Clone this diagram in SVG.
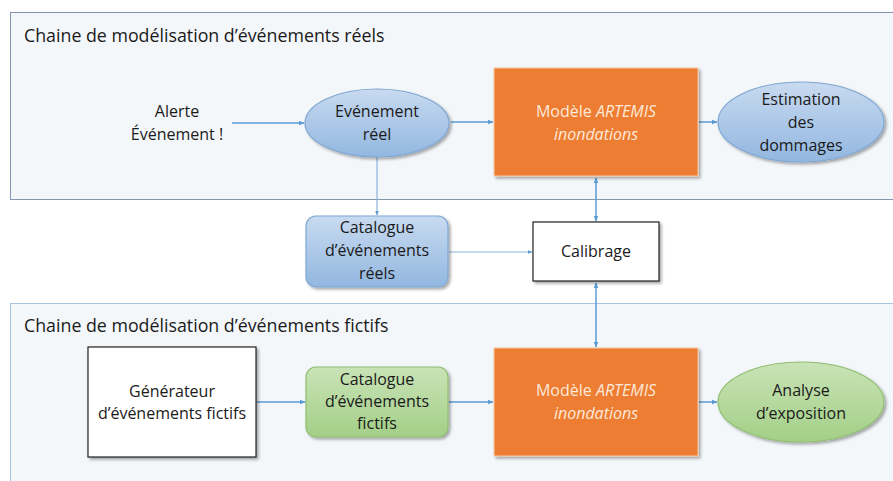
<svg xmlns="http://www.w3.org/2000/svg" width="893" height="481" viewBox="0 0 893 481">
<defs>
<linearGradient id="gBlue" x1="0" y1="0" x2="0" y2="1"><stop offset="0" stop-color="#c8daf0"/><stop offset="1" stop-color="#92b7e0"/></linearGradient>
<linearGradient id="gGreen" x1="0" y1="0" x2="0" y2="1"><stop offset="0" stop-color="#c9e3b6"/><stop offset="1" stop-color="#a3cf87"/></linearGradient>
<filter id="sh" x="-10%" y="-10%" width="125%" height="130%"><feDropShadow dx="2" dy="2" stdDeviation="1.5" flood-color="#000" flood-opacity="0.35"/></filter>
<marker id="ah" viewBox="0 0 10 10" refX="9" refY="5" markerWidth="4" markerHeight="4" orient="auto-start-reverse"><path d="M0,1 L10,5 L0,9 z" fill="#5b9bd5"/></marker>
</defs>
<style>
text{font-family:"Open Sans","Liberation Sans",sans-serif;font-size:16px;fill:#1a1a1a;text-anchor:middle}
.title{font-size:17.8px;text-anchor:start}
.w{fill:#fde9da}
.panel{fill:#f4f7fa;stroke:#8497b0;stroke-width:1}
.panel2{fill:#f4f7fa;stroke:#a9c4e0;stroke-width:1}
.orange{fill:#ed7d31;stroke:#f6c9a8;stroke-width:1}
.box{fill:#fff;stroke:#222;stroke-width:1.2}
.blue{fill:url(#gBlue);stroke:#7fa7d3;stroke-width:1.2}
.green{fill:url(#gGreen);stroke:#8fbf70;stroke-width:1.2}
.c{fill:none;stroke:#5b9bd5;stroke-width:1.5}
.thin{fill:none;stroke:#8ab4dd;stroke-width:1.2}
</style>
<rect x="0" y="0" width="893" height="481" fill="#fff"/>
<g id="panel-reels"><rect class="panel" x="10.5" y="12.5" width="890" height="187"/><text class="title" x="24" y="42">Chaine de modélisation d’événements réels</text></g>
<g id="panel-fictifs"><rect class="panel2" x="10.5" y="303.5" width="890" height="190"/><text class="title" x="24" y="332">Chaine de modélisation d’événements fictifs</text></g>
<g id="connectors">
<line class="c" x1="232" y1="123" x2="304" y2="123" marker-end="url(#ah)"/>
<line class="c" x1="451" y1="122" x2="493" y2="122" marker-end="url(#ah)"/>
<line class="c" x1="699" y1="122" x2="717" y2="122" marker-end="url(#ah)"/>
<line class="thin" x1="377" y1="157" x2="377" y2="215" marker-end="url(#ah)"/>
<line class="thin" x1="449" y1="252" x2="532" y2="252" marker-end="url(#ah)"/>
<line class="c" x1="596" y1="178" x2="596" y2="221" marker-start="url(#ah)" marker-end="url(#ah)"/>
<line class="c" x1="596" y1="283" x2="596" y2="347" marker-start="url(#ah)" marker-end="url(#ah)"/>
<line class="c" x1="257" y1="402" x2="305" y2="402" stroke-width="2" marker-end="url(#ah)"/>
<line class="c" x1="449" y1="402" x2="493" y2="402" stroke-width="2" marker-end="url(#ah)"/>
<line class="c" x1="699" y1="402" x2="717" y2="402" stroke-width="2" marker-end="url(#ah)"/>
</g>
<g id="alerte"><text x="177" y="117">Alerte</text><text x="177" y="140">Événement !</text></g>
<g id="evenement-reel"><ellipse class="blue" cx="377" cy="123" rx="72" ry="34" filter="url(#sh)"/><text x="377" y="117">Evénement</text><text x="377" y="140">réel</text></g>
<g id="artemis-1"><rect class="orange" x="494" y="68" width="204" height="108" filter="url(#sh)"/><text class="w" x="596" y="117">Modèle <tspan font-style="italic">ARTEMIS</tspan></text><text class="w" x="596" y="140" font-style="italic">inondations</text></g>
<g id="estimation"><ellipse class="blue" cx="801" cy="122" rx="83" ry="40" filter="url(#sh)"/><text x="801" y="105">Estimation</text><text x="801" y="128">des</text><text x="801" y="151">dommages</text></g>
<g id="catalogue-reels"><rect class="blue" x="306" y="216" width="142" height="71" rx="10" filter="url(#sh)"/><text x="377" y="233">Catalogue</text><text x="377" y="256">d’événements</text><text x="377" y="279">réels</text></g>
<g id="calibrage"><rect class="box" x="533" y="222" width="126" height="59" filter="url(#sh)"/><text x="596" y="257">Calibrage</text></g>
<g id="generateur"><rect class="box" x="88" y="347" width="168" height="110" filter="url(#sh)"/><text x="172" y="397">Générateur</text><text x="172" y="419">d’événements fictifs</text></g>
<g id="catalogue-fictifs"><rect class="green" x="306" y="367" width="142" height="70" rx="10" filter="url(#sh)"/><text x="377" y="385">Catalogue</text><text x="377" y="407">d’événements</text><text x="377" y="429">fictifs</text></g>
<g id="artemis-2"><rect class="orange" x="494" y="348" width="204" height="108" filter="url(#sh)"/><text class="w" x="596" y="396">Modèle <tspan font-style="italic">ARTEMIS</tspan></text><text class="w" x="596" y="419" font-style="italic">inondations</text></g>
<g id="analyse"><ellipse class="green" cx="801" cy="402" rx="83" ry="40" filter="url(#sh)"/><text x="801" y="396">Analyse</text><text x="801" y="419">d’exposition</text></g>
</svg>
